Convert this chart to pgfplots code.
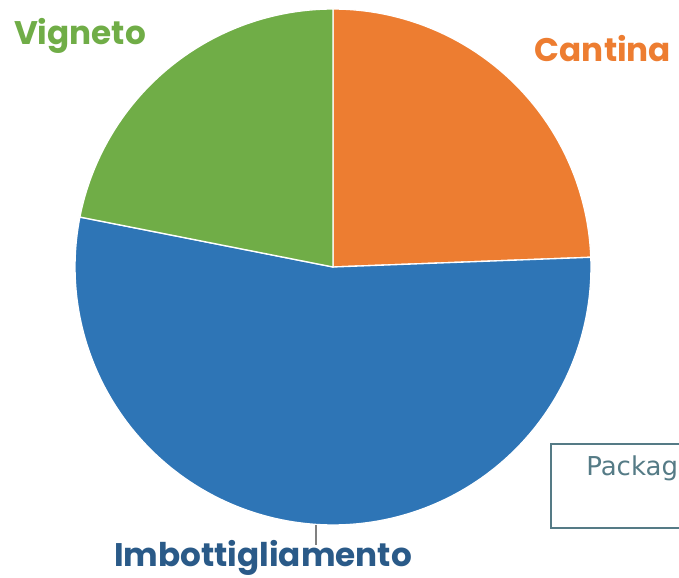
\documentclass[border=0pt]{standalone}
\usepackage{pgfplots}
\pgfplotsset{compat=1.18}
\usepackage{fontspec}
\setmainfont{Poppins}
\newfontfamily\boxfont{DejaVu Sans}
\definecolor{cOrange}{HTML}{ED7D31}
\definecolor{cBlue}{HTML}{2E75B6}
\definecolor{cGreen}{HTML}{70AD47}
\definecolor{cDark}{HTML}{2A5A88}
\definecolor{cBox}{HTML}{557B86}
% slice values (percent)
\pgfmathsetmacro{\vCantina}{24.4}
\pgfmathsetmacro{\vImbott}{53.7}
\pgfmathsetmacro{\vVigneto}{21.9}
\pgfmathsetmacro{\aA}{90}
\pgfmathsetmacro{\aB}{\aA-3.6*\vCantina}
\pgfmathsetmacro{\aC}{\aB-3.6*\vImbott}
\pgfmathsetmacro{\aD}{\aC-3.6*\vVigneto}
\begin{document}
\begin{tikzpicture}
\begin{axis}[
  scale only axis, width=509.25pt, height=433.5pt,
  xmin=0, xmax=679, ymin=0, ymax=578,
  axis lines=none, clip=false,
]
\addplot[fill=cOrange, draw=white, line width=1pt, domain=\aB:\aA, samples=80]
  ({333+258*cos(x)},{311+258*sin(x)}) -- (axis cs:333,311) -- cycle;
\addplot[fill=cBlue, draw=white, line width=1pt, domain=\aC:\aB, samples=150]
  ({333+258*cos(x)},{311+258*sin(x)}) -- (axis cs:333,311) -- cycle;
\addplot[fill=cGreen, draw=white, line width=1pt, domain=\aD:\aC, samples=80]
  ({333+258*cos(x)},{311+258*sin(x)}) -- (axis cs:333,311) -- cycle;
\draw[gray, line width=0.8pt] (axis cs:316,53) -- (axis cs:316,33);
\node[text=cGreen, font=\fontsize{24.5}{26}\selectfont\bfseries] at (axis cs:80,542) {Vigneto};
\node[text=cOrange, font=\fontsize{24.5}{26}\selectfont\bfseries] at (axis cs:603,529) {Cantina};
\node[text=cDark, font=\fontsize{24.5}{26}\selectfont\bfseries] at (axis cs:263,20) {Imbottigliamento};
\draw[cBox, line width=1.5pt] (axis cs:551,134) rectangle (axis cs:760,50);
\node[anchor=base west, inner sep=0pt, text=cBox, font=\boxfont\fontsize{19.5}{21}\selectfont] at (axis cs:586,102) {Packaging};
\end{axis}
\pgfresetboundingbox
\path[use as bounding box] (current axis.south west) rectangle (current axis.north east);
\end{tikzpicture}
\end{document}
